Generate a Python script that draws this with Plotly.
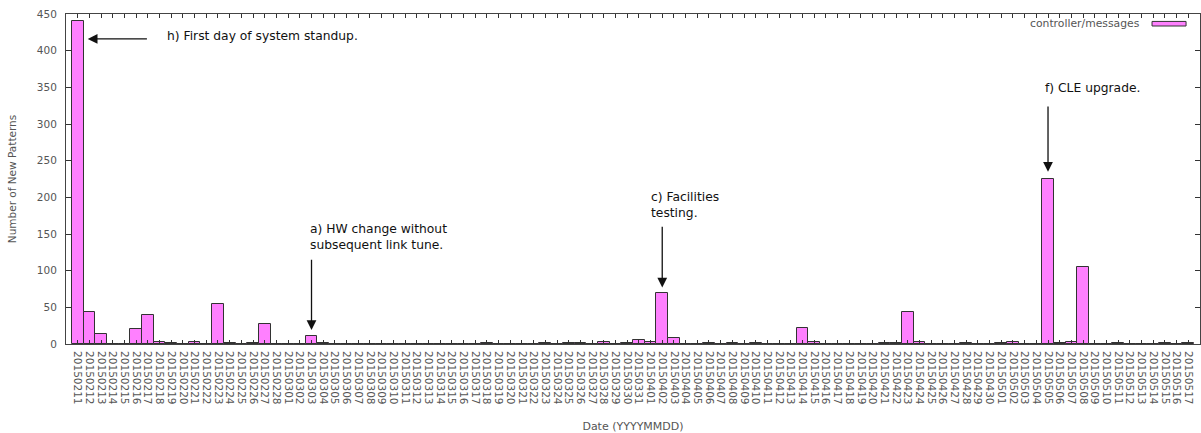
import plotly.graph_objects as go

# Daily dates (YYYYMMDD) and count of new log patterns for controller/messages
dates = (
    [f"201502{d:02d}" for d in range(11, 29)]
    + [f"201503{d:02d}" for d in range(1, 32)]
    + [f"201504{d:02d}" for d in range(1, 31)]
    + [f"201505{d:02d}" for d in range(1, 18)]
)

feb_counts = [440, 43, 13, 0, 0, 20, 39, 3, 1, 0, 3, 0, 55, 1, 0, 1, 27, 0]
mar_counts = [0, 0, 11, 1, 0, 0, 0, 0, 0, 0, 0, 0, 0, 0, 0, 0, 0, 1, 0, 0,
              0, 0, 1, 0, 2, 1, 0, 3, 0, 1, 6]
apr_counts = [3, 69, 8, 0, 0, 1, 0, 2, 0, 1, 0, 0, 0, 22, 3, 0, 0, 0, 0, 0,
              1, 1, 43, 3, 0, 0, 0, 1, 0, 0]
may_counts = [1, 3, 0, 0, 225, 1, 3, 105, 0, 0, 1, 0, 0, 0, 2, 0, 1]
counts = feb_counts + mar_counts + apr_counts + may_counts

series_name = "controller/messages"
y_ticks = [0, 50, 100, 150, 200, 250, 300, 350, 400, 450]

FONT = "DejaVu Sans"
BAR_FILL = "#ff80ff"
AXIS_GREY = "#555555"

fig = go.Figure()
fig.add_trace(go.Bar(
    x=dates,
    y=counts,
    name=series_name,
    marker=dict(color=BAR_FILL, line=dict(color="#333333", width=1)),
    showlegend=False,
))

# Event notes: (label, text x, text y, arrow tip x, tip y, tail x, tail y)
notes = [
    ("h) First day of system standup.", 7.45, 420, 0.86, 416, 6.05, 416),
    ("a) HW change without<br>subsequent link tune.", 19.7, 146, 20.0, 19, 20.0, 117),
    ("c) Facilities<br>testing.", 48.9, 189, 50.0, 77, 50.0, 162),
    ("f) CLE upgrade.", 82.6, 349, 83.0, 235, 83.0, 326),
]
for label, tx, ty, hx, hy, sx, sy in notes:
    fig.add_annotation(
        x=tx, y=ty, xref="x", yref="y", text=label, showarrow=False,
        xanchor="left", yanchor="middle", align="left",
        font=dict(family=FONT, size=12.3, color="#111111"),
    )
    fig.add_annotation(
        x=hx, y=hy, ax=sx, ay=sy, xref="x", yref="y", axref="x", ayref="y",
        text="", showarrow=True, arrowhead=2, arrowsize=1.5, arrowwidth=1.3,
        arrowcolor="#111111", standoff=0,
    )

# Key in the upper-right corner: label followed by a wide filled swatch
fig.add_annotation(
    x=0.9489, y=0.971, xref="paper", yref="paper", text=series_name,
    showarrow=False, xanchor="right", yanchor="middle",
    font=dict(family=FONT, size=10.8, color=AXIS_GREY),
)
fig.add_shape(
    type="rect", xref="paper", yref="paper",
    x0=0.9577, x1=0.9877, y0=0.9636, y1=0.9775,
    fillcolor=BAR_FILL, line=dict(color="#333333", width=1),
)

fig.update_layout(
    width=1201, height=433,
    margin=dict(l=66, r=1, t=14, b=89),
    paper_bgcolor="white", plot_bgcolor="white",
    bargap=0,
    font=dict(family=FONT, size=10, color=AXIS_GREY),
)
fig.update_xaxes(
    type="category",
    range=[-1, len(dates)],
    tickmode="array", tickvals=dates, ticktext=dates,
    tickangle=90,
    ticks="inside", ticklen=4, tickcolor="#333333",
    showline=True, linecolor="#444444", linewidth=1, mirror="ticks",
    showgrid=False, zeroline=False,
    ticklabelstandoff=4,
    tickfont=dict(family=FONT, size=10.5, color=AXIS_GREY),
    title=dict(text="Date (YYYYMMDD)", standoff=18,
               font=dict(family=FONT, size=11, color=AXIS_GREY)),
)
fig.update_yaxes(
    range=[0, 450],
    tickmode="array", tickvals=y_ticks,
    ticks="inside", ticklen=5, tickcolor="#333333",
    showline=True, linecolor="#444444", linewidth=1, mirror="ticks",
    showgrid=False, zeroline=False,
    ticklabelstandoff=6,
    tickfont=dict(family=FONT, size=10.5, color=AXIS_GREY),
    title=dict(text="Number of New Patterns", standoff=18,
               font=dict(family=FONT, size=10.5, color=AXIS_GREY)),
)

fig.write_html("out.html")
